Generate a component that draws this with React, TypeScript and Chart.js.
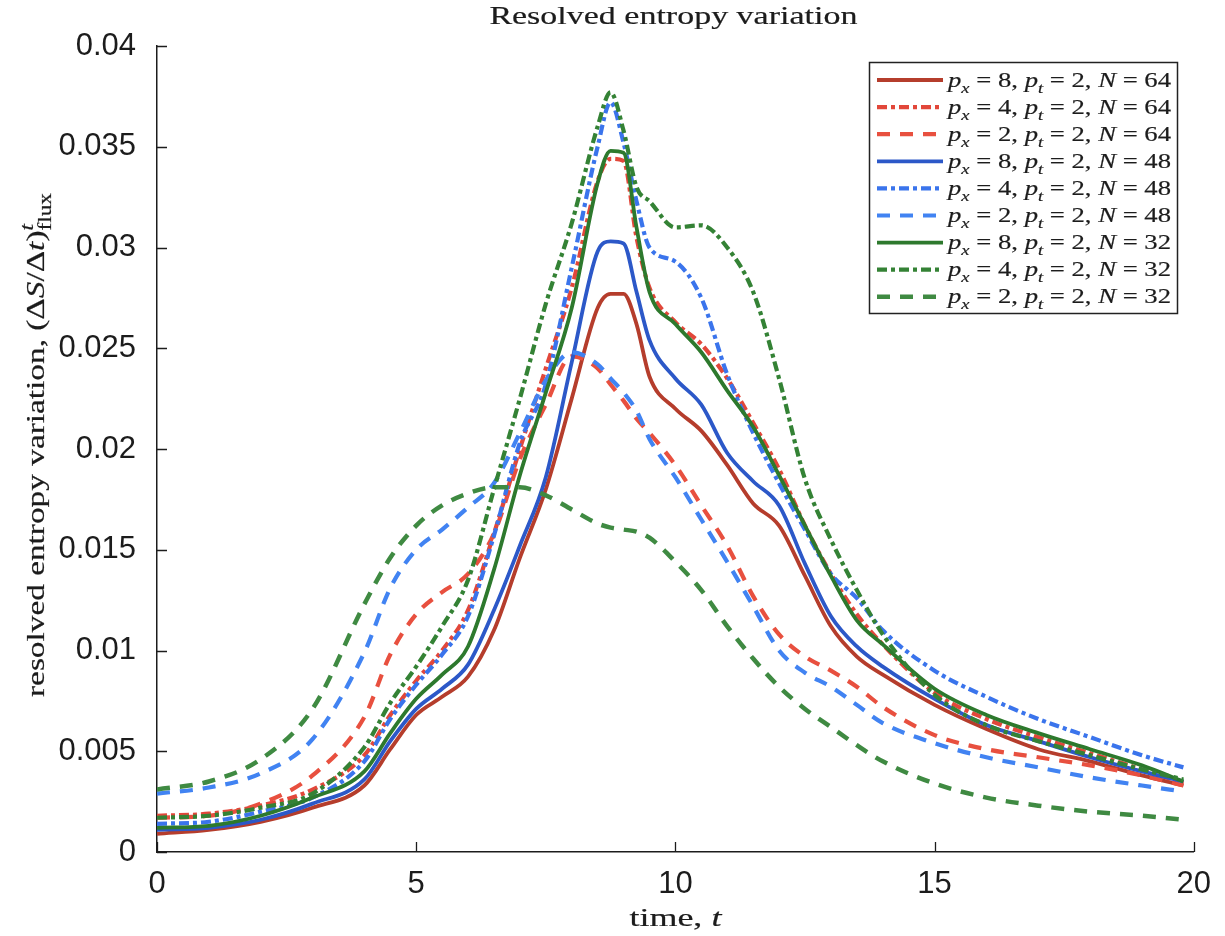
import React, { useEffect, useRef } from 'react';
import { Chart, registerables } from 'chart.js';

Chart.register(...registerables);

// ---------- data ----------
const times = [0, 1, 2, 3, 4, 4.5, 5, 5.5, 6, 6.5, 7, 7.5, 8, 8.5, 8.75, 9, 9.25, 9.5, 10, 10.5, 11, 11.5, 12, 12.5, 13, 13.5, 14, 15, 16, 17, 18, 19, 19.8];

const r8 = [0.0009, 0.0011, 0.0015, 0.0022, 0.0033, 0.0051, 0.0068, 0.0077, 0.0087, 0.0110, 0.0146, 0.0180, 0.0225, 0.0270, 0.0277, 0.0277, 0.0262, 0.0236, 0.0220, 0.0209, 0.0192, 0.0173, 0.0162, 0.0137, 0.0112, 0.0097, 0.0088, 0.0073, 0.0061, 0.0051, 0.0045, 0.0038, 0.0033];
const r4 = [0.0018, 0.0019, 0.0023, 0.0031, 0.0048, 0.0068, 0.0085, 0.0100, 0.0120, 0.0158, 0.0200, 0.0240, 0.0280, 0.0333, 0.0344, 0.0343, 0.0305, 0.0280, 0.0263, 0.0252, 0.0235, 0.0213, 0.0190, 0.0162, 0.0138, 0.0118, 0.0103, 0.0079, 0.0066, 0.0057, 0.0049, 0.0041, 0.0034];
const r2 = [0.0017, 0.0018, 0.0024, 0.0038, 0.0067, 0.0098, 0.0118, 0.0129, 0.0138, 0.0158, 0.0195, 0.0222, 0.0246, 0.0240, 0.0232, 0.0224, 0.0215, 0.0208, 0.0192, 0.0172, 0.0152, 0.0127, 0.0108, 0.0097, 0.0090, 0.0082, 0.0072, 0.0058, 0.0051, 0.0047, 0.0043, 0.0038, 0.0033];
const b8 = [0.0011, 0.0012, 0.0016, 0.0024, 0.0036, 0.0055, 0.0071, 0.0081, 0.0093, 0.0120, 0.0152, 0.0186, 0.0243, 0.0298, 0.0303, 0.0302, 0.0278, 0.0254, 0.0235, 0.0222, 0.0198, 0.0184, 0.0172, 0.0143, 0.0117, 0.0102, 0.0092, 0.0076, 0.0063, 0.0055, 0.0047, 0.0040, 0.0035];
const b4 = [0.0014, 0.0015, 0.0020, 0.0027, 0.0045, 0.0066, 0.0083, 0.0098, 0.0117, 0.0157, 0.0203, 0.0232, 0.0290, 0.0350, 0.0372, 0.0352, 0.0323, 0.0300, 0.0293, 0.0275, 0.0237, 0.0208, 0.0183, 0.0160, 0.0138, 0.0126, 0.0110, 0.0090, 0.0077, 0.0066, 0.0057, 0.0048, 0.0042];
const b2 = [0.0029, 0.0032, 0.0039, 0.0056, 0.0099, 0.0131, 0.0150, 0.0160, 0.0171, 0.0183, 0.0208, 0.0234, 0.0248, 0.0242, 0.0235, 0.0228, 0.0219, 0.0205, 0.0186, 0.0165, 0.0144, 0.0122, 0.0100, 0.0089, 0.0082, 0.0073, 0.0064, 0.0054, 0.0047, 0.0042, 0.0037, 0.0033, 0.0030];
const g8 = [0.0012, 0.0013, 0.0018, 0.0027, 0.0040, 0.0059, 0.0076, 0.0088, 0.0102, 0.0140, 0.0187, 0.0228, 0.0270, 0.0332, 0.0348, 0.0347, 0.0310, 0.0278, 0.0262, 0.0248, 0.0229, 0.0211, 0.0187, 0.0162, 0.0137, 0.0115, 0.0103, 0.0081, 0.0068, 0.0059, 0.0051, 0.0043, 0.0035];
const g4 = [0.0017, 0.0018, 0.0022, 0.0029, 0.0052, 0.0074, 0.0092, 0.0112, 0.0135, 0.0180, 0.0225, 0.0272, 0.0312, 0.0360, 0.0377, 0.0358, 0.0330, 0.0323, 0.0310, 0.0311, 0.0300, 0.0278, 0.0235, 0.0185, 0.0155, 0.0130, 0.0108, 0.0078, 0.0063, 0.0055, 0.0048, 0.0041, 0.0036];
const g2 = [0.0031, 0.0035, 0.0046, 0.0071, 0.0123, 0.0146, 0.0162, 0.0172, 0.0178, 0.0181, 0.0181, 0.0177, 0.0170, 0.0163, 0.0161, 0.0160, 0.0159, 0.0156, 0.0144, 0.0130, 0.0112, 0.0096, 0.0082, 0.0071, 0.0062, 0.0053, 0.0045, 0.0034, 0.0027, 0.0023, 0.0020, 0.0018, 0.0016];

const pxValues = ['8', '4', '2', '8', '4', '2', '8', '4', '2'];
const ptValues = ['2', '2', '2', '2', '2', '2', '2', '2', '2'];
const nValues = ['64', '64', '64', '48', '48', '48', '32', '32', '32'];

const xTickValues = [0, 5, 10, 15, 20];
const xTickLabels = ['0', '5', '10', '15', '20'];
const yTickValues = [0, 0.005, 0.01, 0.015, 0.02, 0.025, 0.03, 0.035, 0.04];
const yTickLabels = ['0', '0.005', '0.01', '0.015', '0.02', '0.025', '0.03', '0.035', '0.04'];

const titleText = 'Resolved entropy variation';

// ---------- styles ----------
const seriesData = [r8, r4, r2, b8, b4, b2, g8, g4, g2];
const colors = ['#b53d2c', '#e2473a', '#e8503f', '#2c58c8', '#3a74ec', '#4183f2', '#2d792d', '#348235', '#3f8a42'];
const DASHDOT = [10, 4, 4, 4];
const DASHED = [13, 10];
const dashes = [[], DASHDOT, DASHED, [], DASHDOT, DASHED, [], DASHDOT, DASHED];
const widths = [3.8, 4.2, 4.2, 3.8, 4.2, 4.2, 3.8, 4.2, 4.5];

const SERIF = '"Liberation Serif", "Times New Roman", serif';
const SANS = '"Liberation Sans", Arial, sans-serif';
const INK = '#1c1c1c';

type Run = { t: string; it?: boolean; sub?: boolean; sup?: boolean; stack?: boolean };

function layoutRuns(ctx: CanvasRenderingContext2D, runs: Run[], size: number) {
  let x = 0;
  let prevStart = 0;
  const items: { t: string; start: number; font: string; dy: number }[] = [];
  for (const r of runs) {
    const s = r.sub || r.sup ? size * 0.7 : size;
    const font = `${r.it ? 'italic ' : ''}${s}px ${SERIF}`;
    ctx.font = font;
    const w = ctx.measureText(r.t).width;
    const start = r.stack ? prevStart : x;
    const dy = r.sub ? size * 0.28 : r.sup ? -size * 0.42 : 0;
    items.push({ t: r.t, start, font, dy });
    x = r.stack ? Math.max(x, start + w) : start + w;
    prevStart = start;
  }
  return { items, width: x };
}

function drawRuns(
  ctx: CanvasRenderingContext2D,
  runs: Run[],
  x: number,
  baseline: number,
  size: number,
  targetWidth: number,
  align: 'left' | 'center'
) {
  const { items, width } = layoutRuns(ctx, runs, size);
  const sx = targetWidth > 0 ? targetWidth / width : 1;
  ctx.save();
  ctx.translate(x, baseline);
  ctx.scale(sx, 1);
  const x0 = align === 'center' ? -width / 2 : 0;
  ctx.textAlign = 'left';
  ctx.textBaseline = 'alphabetic';
  ctx.fillStyle = INK;
  ctx.strokeStyle = INK;
  ctx.lineWidth = 0.2;
  for (const it of items) {
    ctx.font = it.font;
    ctx.fillText(it.t, x0 + it.start, it.dy);
    ctx.strokeText(it.t, x0 + it.start, it.dy);
  }
  ctx.restore();
}

function legendRuns(i: number): Run[] {
  return [
    { t: 'p', it: true },
    { t: 'x', it: true, sub: true },
    { t: ' = ' + pxValues[i] + ', ' },
    { t: 'p', it: true },
    { t: 't', it: true, sub: true },
    { t: ' = ' + ptValues[i] + ', ' },
    { t: 'N', it: true },
    { t: ' = ' + nValues[i] },
  ];
}

const yLabelRuns: Run[] = [
  { t: 'resolved entropy variation, (Δ' },
  { t: 'S', it: true },
  { t: '/Δ' },
  { t: 't', it: true },
  { t: ')' },
  { t: 't', it: true, sup: true },
  { t: 'flux', sub: true, stack: true },
];

const xLabelRuns: Run[] = [{ t: 'time, ' }, { t: 't', it: true }];

const decorPlugin = {
  id: 'decor',
  afterDraw(chart: any) {
    const ctx: CanvasRenderingContext2D = chart.ctx;
    const xs = chart.scales.x;
    const ys = chart.scales.y;
    const area = chart.chartArea;

    // inward tick marks
    ctx.save();
    ctx.strokeStyle = INK;
    ctx.lineWidth = 1.3;
    ctx.beginPath();
    for (const v of xTickValues) {
      const px = Math.round(xs.getPixelForValue(v)) + 0.5;
      ctx.moveTo(px, area.bottom);
      ctx.lineTo(px, area.bottom - 10);
    }
    for (const v of yTickValues) {
      const py = Math.round(ys.getPixelForValue(v)) + 0.5;
      ctx.moveTo(area.left, py);
      ctx.lineTo(area.left + 10, py);
    }
    ctx.stroke();
    ctx.restore();

    // title
    drawRuns(ctx, [{ t: titleText }], (area.left + area.right) / 2 - 2, 24, 25, 368, 'center');
    // x label
    drawRuns(ctx, xLabelRuns, (area.left + area.right) / 2, 926, 26, 92, 'center');
    // y label (rotated)
    ctx.save();
    ctx.translate(44, 445);
    ctx.rotate(-Math.PI / 2);
    drawRuns(ctx, yLabelRuns, 0, 0, 26, 504, 'center');
    ctx.restore();

    // legend
    const L = 869, T = 62, R = 1177, B = 313;
    ctx.save();
    ctx.fillStyle = '#ffffff';
    ctx.fillRect(L, T, R - L, B - T);
    ctx.strokeStyle = '#222';
    ctx.lineWidth = 1.5;
    ctx.strokeRect(L + 0.5, T + 0.5, R - L, B - T);
    chart.data.datasets.forEach((ds: any, i: number) => {
      const cy = 80 + i * 27.1;
      ctx.save();
      ctx.strokeStyle = ds.borderColor;
      ctx.lineWidth = ds.borderWidth;
      ctx.setLineDash(ds.borderDash || []);
      ctx.lineCap = 'butt';
      ctx.beginPath();
      ctx.moveTo(877, cy);
      ctx.lineTo(943, cy);
      ctx.stroke();
      ctx.restore();
      drawRuns(ctx, legendRuns(i), 948, cy + 6.5, 22, 223, 'left');
    });
    ctx.restore();
  },
};

export default function App() {
  const ref = useRef<HTMLCanvasElement | null>(null);

  useEffect(() => {
    document.body.style.margin = '0';
    const canvas = ref.current;
    if (!canvas) return;
    const datasets = seriesData.map((arr, i) => ({
      label: `p_x = ${pxValues[i]}, p_t = ${ptValues[i]}, N = ${nValues[i]}`,
      data: times.map((t, k) => ({ x: t, y: arr[k] })),
      borderColor: colors[i],
      backgroundColor: colors[i],
      borderWidth: widths[i],
      borderDash: dashes[i],
      borderCapStyle: 'butt' as const,
      pointRadius: 0,
      fill: false,
      cubicInterpolationMode: 'monotone' as const,
      order: seriesData.length - i,
    }));

    const chart = new Chart(canvas, {
      type: 'line',
      data: { datasets },
      options: {
        animation: false,
        responsive: false,
        devicePixelRatio: 1,
        layout: { autoPadding: false, padding: { top: 46, right: 25, bottom: 0, left: 0 } },
        plugins: { legend: { display: false }, title: { display: false }, tooltip: { enabled: false } },
        events: [],
        scales: {
          x: {
            type: 'linear',
            min: 0,
            max: 20,
            afterFit: (s: any) => { s.height = 84; },
            afterBuildTicks: (s: any) => { s.ticks = xTickValues.map((v) => ({ value: v })); },
            grid: { display: false, drawTicks: false },
            border: { display: true, color: INK, width: 1.5 },
            ticks: {
              padding: 14,
              color: INK,
              font: { family: SANS, size: 31 },
              maxRotation: 0,
              callback: (v: any) => xTickLabels[xTickValues.indexOf(Number(v))] ?? '',
            },
          },
          y: {
            type: 'linear',
            min: 0,
            max: 0.04,
            afterFit: (s: any) => { s.width = 157; },
            afterBuildTicks: (s: any) => { s.ticks = yTickValues.map((v) => ({ value: v })); },
            grid: { display: false, drawTicks: false },
            border: { display: true, color: INK, width: 1.5 },
            ticks: {
              padding: 21,
              color: INK,
              font: { family: SANS, size: 31 },
              callback: (v: any) => {
                const idx = yTickValues.findIndex((t) => Math.abs(t - Number(v)) < 1e-9);
                return idx >= 0 ? yTickLabels[idx] : '';
              },
            },
          },
        },
      },
      plugins: [decorPlugin],
    } as any);

    return () => chart.destroy();
  }, []);

  return (
    <div style={{ width: 1225, height: 936, background: '#fff' }}>
      <canvas ref={ref} width={1225} height={936} style={{ display: 'block' }} />
    </div>
  );
}
